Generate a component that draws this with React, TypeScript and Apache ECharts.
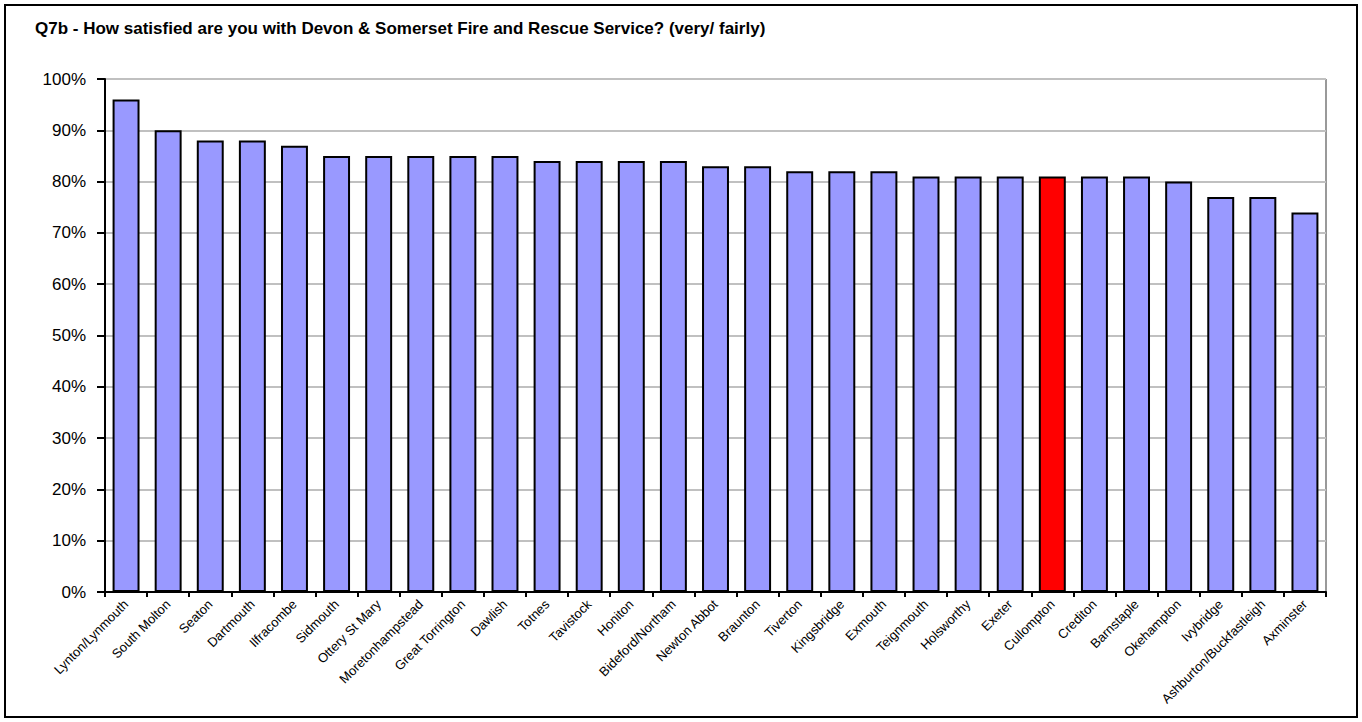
import React, { useEffect, useRef } from "react";
import * as echarts from "echarts";

const categories = [
  "Lynton/Lynmouth", "South Molton", "Seaton", "Dartmouth", "Ilfracombe", "Sidmouth",
  "Ottery St Mary", "Moretonhampstead", "Great Torrington", "Dawlish", "Totnes", "Tavistock",
  "Honiton", "Bideford/Northam", "Newton Abbot", "Braunton", "Tiverton", "Kingsbridge",
  "Exmouth", "Teignmouth", "Holsworthy", "Exeter", "Cullompton", "Crediton", "Barnstaple",
  "Okehampton", "Ivybridge", "Ashburton/Buckfastleigh", "Axminster",
];
const values = [96, 90, 88, 88, 87, 85, 85, 85, 85, 85, 84, 84, 84, 84, 83, 83, 82, 82, 82, 81, 81, 81, 81, 81, 81, 80, 77, 77, 74];
const highlighted = "Cullompton";
const titleText = "Q7b - How satisfied are you with Devon & Somerset Fire and Rescue Service? (very/ fairly)";

export default function App() {
  const ref = useRef<HTMLDivElement>(null);
  useEffect(() => {
    const chart = echarts.init(ref.current!, null, { renderer: "svg" });
    const font = "'Liberation Sans', Arial, sans-serif";
    chart.setOption({
      animation: false,
      backgroundColor: "#ffffff",
      title: {
        text: titleText,
        left: 30,
        top: 15,
        textStyle: { fontFamily: font, fontSize: 17, fontWeight: "bold", color: "#000" },
      },
      graphic: [
        {
          type: "rect",
          shape: { x: 5, y: 5, width: 1352, height: 712 },
          style: { fill: "none", stroke: "#000", lineWidth: 2 },
          silent: true,
        },
        {
          type: "line",
          shape: { x1: 1326, y1: 79, x2: 1326, y2: 592 },
          style: { stroke: "#999", lineWidth: 2 },
          silent: true,
        },
      ],
      grid: { left: 105, right: 36, top: 79, bottom: 130, containLabel: false },
      xAxis: {
        type: "category",
        data: categories,
        axisLine: { lineStyle: { color: "#000", width: 2 } },
        axisTick: { show: true, length: 5, lineStyle: { color: "#000", width: 2 }, alignWithLabel: false },
        axisLabel: { rotate: 45, interval: 0, fontFamily: font, fontSize: 13, color: "#000", margin: 10 },
      },
      yAxis: {
        type: "value",
        min: 0,
        max: 100,
        interval: 10,
        axisLine: { show: true, lineStyle: { color: "#000", width: 2 } },
        axisTick: { show: true, inside: false, length: 8, lineStyle: { color: "#000", width: 2 } },
        axisLabel: { formatter: "{value}%", fontFamily: font, fontSize: 17, color: "#000", margin: 19 },
        splitLine: { show: true, lineStyle: { color: "#c0c0c0", width: 2 } },
      },
      series: [
        {
          type: "bar",
          data: values.map((v, i) => ({
            value: v,
            itemStyle: { color: categories[i] === highlighted ? "#ff0000" : "#9999ff" },
          })),
          barCategoryGap: "36%",
          itemStyle: { borderColor: "#000", borderWidth: 2 },
        },
      ],
    });
    return () => chart.dispose();
  }, []);
  return (
    <div
      ref={ref}
      style={{ position: "absolute", left: 0, top: 0, width: 1362, height: 722 }}
    />
  );
}
